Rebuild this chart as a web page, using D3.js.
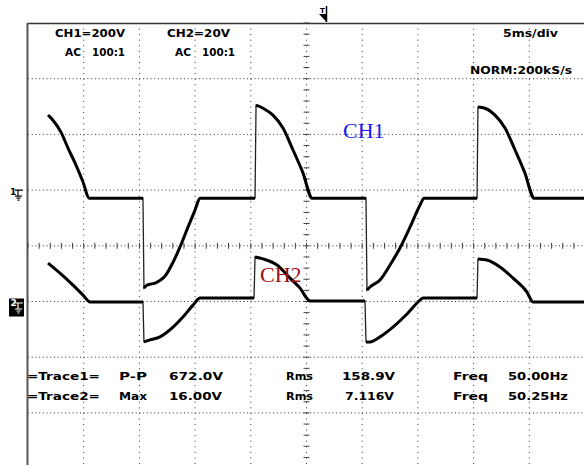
<!DOCTYPE html>
<html><head><meta charset="utf-8">
<script src="https://cdn.jsdelivr.net/npm/d3@7"></script>
<style>body{margin:0;background:#fff}svg{display:block}</style>
</head><body>
<script>
// ---- data (time in ms, voltage in V) ----
const ch1Time = [1.80,2.24,2.96,3.59,4.31,4.94,5.48,10.32,10.41,10.68,11.40,12.30,13.02,13.64,14.36,14.99,15.44,20.38,20.47,21.10,21.99,22.89,23.79,24.69,25.49,30.34,30.43,30.70,31.60,32.50,33.39,34.29,35.19,35.55,40.31,40.39,41.02,41.92,42.82,43.72,44.61,45.42,49.95];
const ch1Volt = [269,251,208,151,90,29,-29,-29,-352,-341,-334,-309,-259,-205,-133,-72,-29,-29,305,294,269,223,144,61,-29,-29,-359,-348,-323,-269,-208,-133,-54,-29,-29,298,294,269,223,144,61,-29,-29];
const ch2Time = [1.80,2.87,4.04,4.94,5.57,10.32,10.41,10.95,11.85,13.02,13.91,14.81,15.44,20.29,20.38,21.10,22.35,23.52,24.42,25.31,30.25,30.34,30.70,31.60,32.76,34.02,35.19,35.46,40.31,40.39,41.20,42.37,43.54,44.79,45.33,49.95];
const ch2Volt = [13.8,10.2,5.9,2.3,-0.2,-0.2,-14.5,-13.8,-12.7,-9.2,-5.6,-1.3,1.3,1.3,16.0,15.3,13.1,8.4,4.8,0.2,0.2,-14.5,-14.5,-12.7,-9.2,-4.5,0.5,1.3,1.3,15.3,14.9,12.4,8.4,3.4,-0.2,-0.2];
const ch1VoltsPerDiv = 200, ch2VoltsPerDiv = 20;
const ch1Ground = 1, ch2Ground = -1; // divisions
const headerTexts = ["CH1=200V","AC","100:1","CH2=20V","AC","100:1","5ms/div","NORM:200kS/s"];
const measureRow1 = ["=Trace1=","P-P","672.0V","Rms","158.9V","Freq","50.00Hz"];
const measureRow2 = ["=Trace2=","Max","16.00V","Rms","7.116V","Freq","50.25Hz"];
const channelLabels = ["CH1","CH2"];

// ---- layout ----
const W = 584, H = 465;
const svg = d3.select("body").append("svg").attr("width", W).attr("height", H);
const x = d3.scaleLinear().domain([0, 50]).range([28, 585]);
const y = d3.scaleLinear().domain([-4, 4]).range([468.6, 23]);
const divPx = x(5) - x(0);

// grid
const g = svg.append("g");
d3.range(1, 10).forEach(i => {
  const xv = x(i * 5);
  g.append("line").attr("x1", xv).attr("x2", xv).attr("y1", 23).attr("y2", H)
    .attr("stroke", "#333").attr("stroke-width", 1)
    .attr("stroke-dasharray", `1,${divPx/10 - 1}`);
});
d3.range(-3, 4).forEach(i => {
  const yv = y(i);
  g.append("line").attr("x1", 28).attr("x2", W).attr("y1", yv).attr("y2", yv)
    .attr("stroke", "#333").attr("stroke-width", 1)
    .attr("stroke-dasharray", `1,${divPx/15 - 1}`);
});
// centre axis ticks
d3.range(0, 51, 1).forEach(t => {
  const xv = x(t);
  g.append("line").attr("x1", xv).attr("x2", xv).attr("y1", y(0) - 3).attr("y2", y(0) + 3)
    .attr("stroke", "#444").attr("stroke-width", 1);
});
d3.range(-4, 4.01, 0.2).forEach(d => {
  const yv = y(d);
  g.append("line").attr("x1", x(25) - 3).attr("x2", x(25) + 3).attr("y1", yv).attr("y2", yv)
    .attr("stroke", "#444").attr("stroke-width", 1);
});

// frame
svg.append("line").attr("x1", 27).attr("x2", W).attr("y1", 23.5).attr("y2", 23.5)
  .attr("stroke", "#333").attr("stroke-width", 1.5);
svg.append("line").attr("x1", 27.5).attr("x2", 27.5).attr("y1", 23).attr("y2", H)
  .attr("stroke", "#555").attr("stroke-width", 2);

// traces
function drawTrace(times, volts, vpd, gnd) {
  const pts = times.map((t, i) => [x(t), y(gnd + volts[i] / vpd)]);
  const line = d3.line().curve(d3.curveMonotoneX);
  svg.append("path").attr("d", d3.line()(pts)).attr("fill", "none")
    .attr("stroke", "#222").attr("stroke-width", 1.3);
  let run = [pts[0]];
  const runs = [];
  for (let i = 1; i < pts.length; i++) {
    if (times[i] - times[i - 1] < 0.15) { runs.push(run); run = [pts[i]]; }
    else run.push(pts[i]);
  }
  runs.push(run);
  runs.forEach(r => {
    if (r.length > 1) svg.append("path").attr("d", line(r)).attr("fill", "none")
      .attr("stroke", "#000").attr("stroke-width", 3).attr("stroke-linejoin", "round");
  });
}
drawTrace(ch1Time, ch1Volt, ch1VoltsPerDiv, ch1Ground);
drawTrace(ch2Time, ch2Volt, ch2VoltsPerDiv, ch2Ground);

// scope text
const font = "'DejaVu Sans', Arial, sans-serif";
function scopeText(str, xx, yy, w, fill) {
  svg.append("text").attr("x", xx).attr("y", yy).text(str)
    .attr("font-family", font).attr("font-size", 10.5).attr("font-weight", "bold")
    .attr("fill", fill || "#000")
    .attr("textLength", w).attr("lengthAdjust", "spacingAndGlyphs");
}
const hdrPos = [[55,37,70],[65,55.5,16],[92,55.5,33],[167,37,63],[175,55.5,16],[202,55.5,33],[503,37,55],[470,74,102]];
headerTexts.forEach((s, i) => scopeText(s, ...hdrPos[i]));
const colPos = [[27,73],[119,28],[169,54],[286,27],[342,53],[453,35],[508,60]];
const colPos2 = [[27,73],[119,28],[169,53],[286,27],[345,49],[453,35],[508,60]];
measureRow1.forEach((s, i) => scopeText(s, colPos[i][0], 380, colPos[i][1]));
measureRow2.forEach((s, i) => scopeText(s, colPos2[i][0], 400, colPos2[i][1]));

// trigger marker
const tx = 326.5;
svg.append("path").attr("d", `M${tx-7.5},14 L${tx},14 L${tx},22 Z`).attr("fill", "#000");
svg.append("line").attr("x1", tx).attr("x2", tx).attr("y1", 6).attr("y2", 22).attr("stroke", "#000").attr("stroke-width", 1.5);
svg.append("text").attr("x", 320).attr("y", 13).text("T").attr("font-family", font)
  .attr("font-size", 7).attr("font-weight", "bold");

// ground markers
function groundSym(gx, gy, col) {
  const p = `M${gx},${gy} H${gx+8} M${gx+3},${gy} V${gy+6} M${gx},${gy+6} H${gx+7} M${gx+1.5},${gy+8} H${gx+5.5} M${gx+2.5},${gy+10} H${gx+4.5}`;
  svg.append("path").attr("d", p).attr("stroke", col).attr("stroke-width", 1.2).attr("fill", "none");
}
const g1 = y(ch1Ground), g2 = y(ch2Ground);
svg.append("text").attr("x", 10).attr("y", g1 + 5).text("1").attr("font-family", font)
  .attr("font-size", 9).attr("font-weight", "bold");
groundSym(15, g1, "#000");
svg.append("rect").attr("x", 9).attr("y", g2 - 3).attr("width", 15).attr("height", 18).attr("fill", "#000");
svg.append("text").attr("x", 10.5).attr("y", g2 + 4).text("2").attr("font-family", font)
  .attr("font-size", 9).attr("font-weight", "bold").attr("fill", "#fff");
groundSym(15, g2 + 1.5, "#fff");

// channel labels
svg.append("text").attr("x", 343).attr("y", 138).text(channelLabels[0])
  .attr("font-family", "'Liberation Serif', 'Times New Roman', serif").attr("font-size", 22).attr("fill", "#1a1aee");
svg.append("text").attr("x", 260).attr("y", 282).text(channelLabels[1])
  .attr("font-family", "'Liberation Serif', 'Times New Roman', serif").attr("font-size", 22).attr("fill", "#991111");
</script>
</body></html>
